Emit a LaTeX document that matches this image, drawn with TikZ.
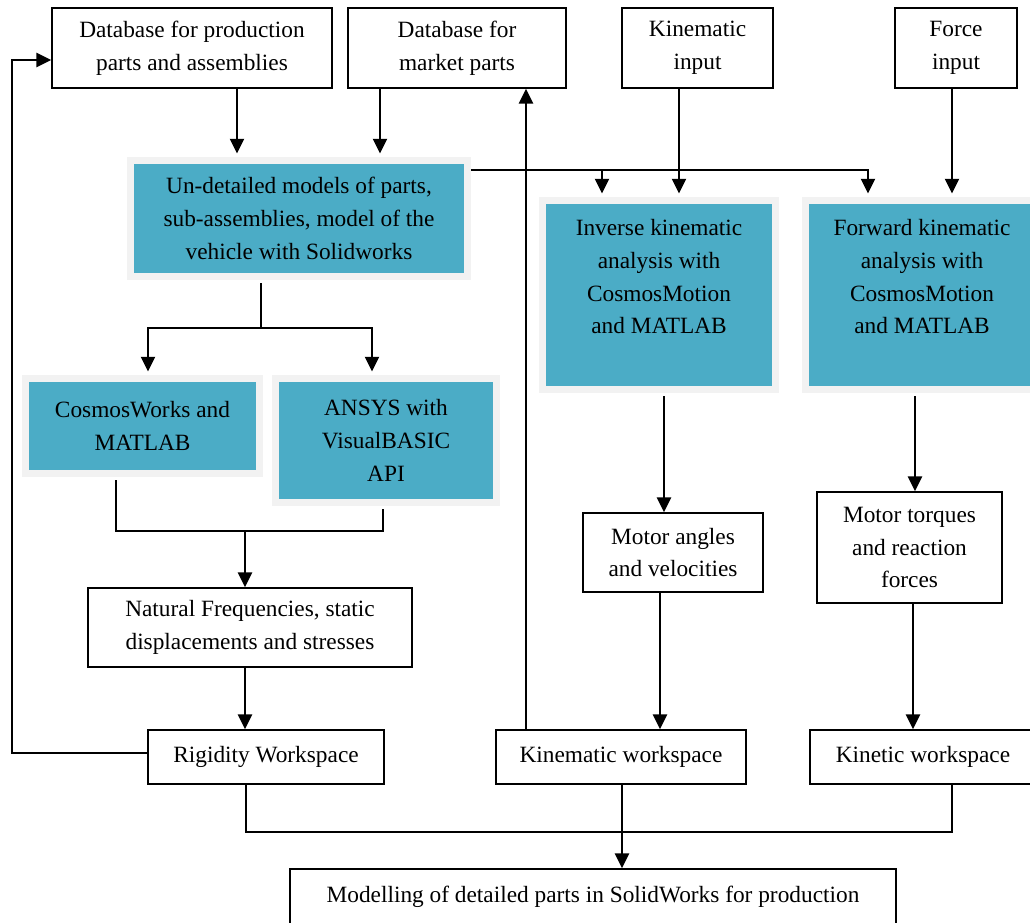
\documentclass[tikz,border=0pt]{standalone}
\usepackage{fontspec}
\setmainfont{Liberation Serif}
\usetikzlibrary{arrows.meta}
\definecolor{aqua}{RGB}{75,172,198}
\definecolor{rahmen}{RGB}{242,242,242}

\begin{document}
\begin{tikzpicture}[x=0.75pt,y=-0.75pt,font=\fontsize{17.5}{24.5}\selectfont,
	box/.style={draw,line width=1.3pt,align=center,inner sep=0pt},
	tbox/.style={draw=rahmen,fill=aqua,line width=5.25pt,align=center,inner sep=0pt},
	con/.style={line width=1.6pt},
	arr/.style={con,-{Triangle[length=11pt,width=10.5pt]}}]
		\useasboundingbox (0,0) rectangle (1030,923);

		% top row
		\node[box,minimum width=210pt,minimum height=60pt] (DBP) at (192,48) {Database for production\\parts and assemblies};
		\node[box,minimum width=163.5pt,minimum height=60pt] (DBM) at (457,48) {Database for\\market parts};
		\node[box,minimum width=113.25pt,minimum height=60pt] (KIN) at (697.5,48) {Kinematic\\input};
		\node[box,minimum width=91.5pt,minimum height=60pt] (FOR) at (956,48) {Force\\input};

		% software boxes
		\node[tbox,minimum width=252.75pt,minimum height=87pt] (UND) at (299,218.5) {Un-detailed models of parts,\\sub-assemblies, model of the\\vehicle with Solidworks};
		\node[tbox,minimum width=174.75pt,minimum height=141.75pt] (INV) at (659,295) {\begin{tabular}{@{}c@{}}Inverse kinematic\\analysis with\\CosmosMotion\\and MATLAB\\[25pt]\end{tabular}};
		\node[tbox,minimum width=174.75pt,minimum height=141.75pt] (FWD) at (922,295) {\begin{tabular}{@{}c@{}}Forward kinematic\\analysis with\\CosmosMotion\\and MATLAB\\[25pt]\end{tabular}};
		\node[tbox,minimum width=175.5pt,minimum height=71.25pt] (CW) at (142.5,426) {CosmosWorks and\\MATLAB};
		\node[tbox,minimum width=165.75pt,minimum height=93pt] (ANS) at (386,440.5) {ANSYS with\\VisualBASIC\\API};

		% results
		\node[box,minimum width=243pt,minimum height=59.25pt] (NAT) at (250,627.5) {Natural Frequencies, static\\displacements and stresses};
		\node[box,minimum width=135pt,minimum height=59.25pt] (MAN) at (673,552.5) {Motor angles\\and velocities};
		\node[box,minimum width=138.75pt,minimum height=83.25pt] (MTQ) at (909.5,547.5) {Motor torques\\and reaction\\forces};

		% workspaces
		\node[box,minimum width=177pt,minimum height=40.5pt] (RIG) at (266,757) {Rigidity Workspace};
		\node[box,minimum width=187.5pt,minimum height=40.5pt] (KWS) at (621,757) {Kinematic workspace};
		\node[box,minimum width=169.5pt,minimum height=40.5pt] (KNW) at (923,757) {Kinetic workspace};
		\node[box,minimum width=454.5pt,minimum height=42pt] (MOD) at (593,897) {Modelling of detailed parts in SolidWorks for production};

		% connectors
		\draw[arr,shorten >=2.6pt] (237,0 |- DBP.south) -- (237,0 |- UND.north);
		\draw[arr,shorten >=2.6pt] (380,0 |- DBM.south) -- (380,0 |- UND.north);
		\coordinate (split) at (602,170);
		\draw[arr,shorten >=2.6pt] (UND.east |- split) -- (868,170) -- (868,0 |- FWD.north);
		\draw[arr,shorten >=2.6pt] (split) -- (602,0 |- INV.north);
		\draw[arr,shorten >=2.6pt] (679,0 |- KIN.south) -- (679,0 |- INV.north);
		\draw[arr,shorten >=2.6pt] (952,0 |- FOR.south) -- (952,0 |- FWD.north);

		\draw[con,shorten <=2.6pt] (261,0 |- UND.south) -- (261,328) coordinate (fork);
		\draw[arr,shorten >=2.6pt] (fork) -- (148,328) -- (148,0 |- CW.north);
		\draw[arr,shorten >=2.6pt] (fork) -- (372,328) -- (372,0 |- ANS.north);
		\coordinate (join) at (245,531);
		\draw[con,shorten <=2.6pt,shorten >=2.6pt] (116,0 |- CW.south) -- (116,531) -- (383,531) -- (383,0 |- ANS.south);
		\draw[arr] (join) -- (245,0 |- NAT.north);
		\draw[arr] (245,0 |- NAT.south) -- (245,0 |- RIG.north);
		\draw[arr] (RIG.west |- 0,753) -- (12,753) -- (12,60) -- (DBP.west |- 0,60);

		\draw[arr] (526,0 |- KWS.north) -- (526,0 |- DBM.south);
		\draw[arr,shorten <=2.6pt] (664,0 |- INV.south) -- (664,0 |- MAN.north);
		\draw[arr] (660,0 |- MAN.south) -- (660,0 |- KWS.north);
		\draw[arr,shorten <=2.6pt] (915,0 |- FWD.south) -- (915,0 |- MTQ.north);
		\draw[arr] (913,0 |- MTQ.south) -- (913,0 |- KNW.north);

		\coordinate (bottom) at (622,832);
		\draw[con] (246,0 |- RIG.south) -- (246,832) -- (952,832) -- (952,0 |- KNW.south);
		\draw[con] (622,0 |- KWS.south) -- (bottom);
		\draw[arr] (bottom) -- (622,0 |- MOD.north);
\end{tikzpicture}
\end{document}
